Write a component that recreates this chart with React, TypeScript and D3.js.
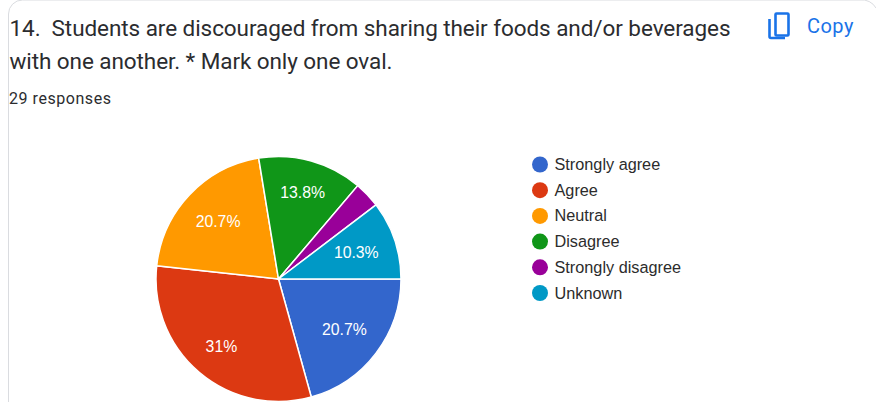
import React from "react";
import * as d3 from "d3";

const categories = ["Strongly agree", "Agree", "Neutral", "Disagree", "Strongly disagree", "Unknown"];
const counts = [6, 9, 6, 4, 1, 3];
const sliceLabels = ["20.7%", "31%", "20.7%", "13.8%", "", "10.3%"];
const colors = ["#3366cc", "#dc3912", "#ff9900", "#109618", "#990099", "#0099c6"];
const titleLines = [
  "14.\u00a0 Students are discouraged from sharing their foods and/or beverages",
  "with one another. * Mark only one oval.",
];
const responses = "29 responses";
const copyLabel = "Copy";
// radial placement of each slice label, as a fraction of the pie radius
const labelFractions = [0.675, 0.72, 0.68, 0.735, 0.68, 0.67];

export default function App() {
  const cx = 278.5, cy = 279, r = 122.5;
  const pie = d3.pie<number>().sort(null).startAngle(Math.PI / 2).endAngle(Math.PI / 2 + 2 * Math.PI);
  const arcs = pie(counts);
  const arc = d3.arc<d3.PieArcDatum<number>>().innerRadius(0).outerRadius(r);
  const legendY = d3.scalePoint<string>().domain(categories).range([164.5, 293]);
  return (
    <svg width={876} height={402} style={{ position: "absolute", left: 0, top: 0, background: "#fff" }}>
      <path d="M8.5 402V14a14 14 0 0 1 14-14H860a16 16 0 0 1 16 8" fill="none" stroke="#dadce0" />
      <g fontFamily="Roboto" fill="#2b2c2f" fontSize={22.5}>
        {titleLines.map((t, i) => (
          <text key={i} x={9.5} y={36 + i * 32.5} textLength={i === 0 ? 721 : 383} lengthAdjust="spacing">{t}</text>
        ))}
      </g>
      <text x={9} y={104} fontFamily="Roboto" fontSize={16} fill="#2b2c2f" letterSpacing={0.55}>{responses}</text>
      <g fill="none" stroke="#1a73e8" strokeWidth={2.6}>
        <rect x={775.5} y={13.5} width={13} height={22} rx={1} />
        <path d="M769.5 19v17.5a1.5 1.5 0 0 0 1.5 1.5h14" />
      </g>
      <text x={807} y={33} fontFamily="Roboto" fontSize={20} fontWeight={400} letterSpacing={0.45} fill="#1a73e8">{copyLabel}</text>
      <g transform={`translate(${cx},${cy})`}>
        {arcs.map((a, i) => (
          <path key={i} d={arc(a) ?? ""} fill={colors[i]} stroke="#fff" strokeWidth={1.5} />
        ))}
        {arcs.map((a, i) => {
          const labelR = r * labelFractions[i];
          const [x, y] = d3.arc<d3.PieArcDatum<number>>().innerRadius(labelR).outerRadius(labelR).centroid(a);
          return (
            <text key={i} x={x} y={y + 5.5} textAnchor="middle" fontFamily="Liberation Sans, Arial" fontSize={15.8} fill="#fff">
              {sliceLabels[i]}
            </text>
          );
        })}
      </g>
      {categories.map((c, i) => (
        <g key={c}>
          <circle cx={540} cy={legendY(c)} r={8} fill={colors[i]} />
          <text x={554.5} y={(legendY(c) ?? 0) + 5.5} fontFamily="Liberation Sans, Arial" fontSize={16.25} fill="#2c2c2c">{c}</text>
        </g>
      ))}
    </svg>
  );
}
